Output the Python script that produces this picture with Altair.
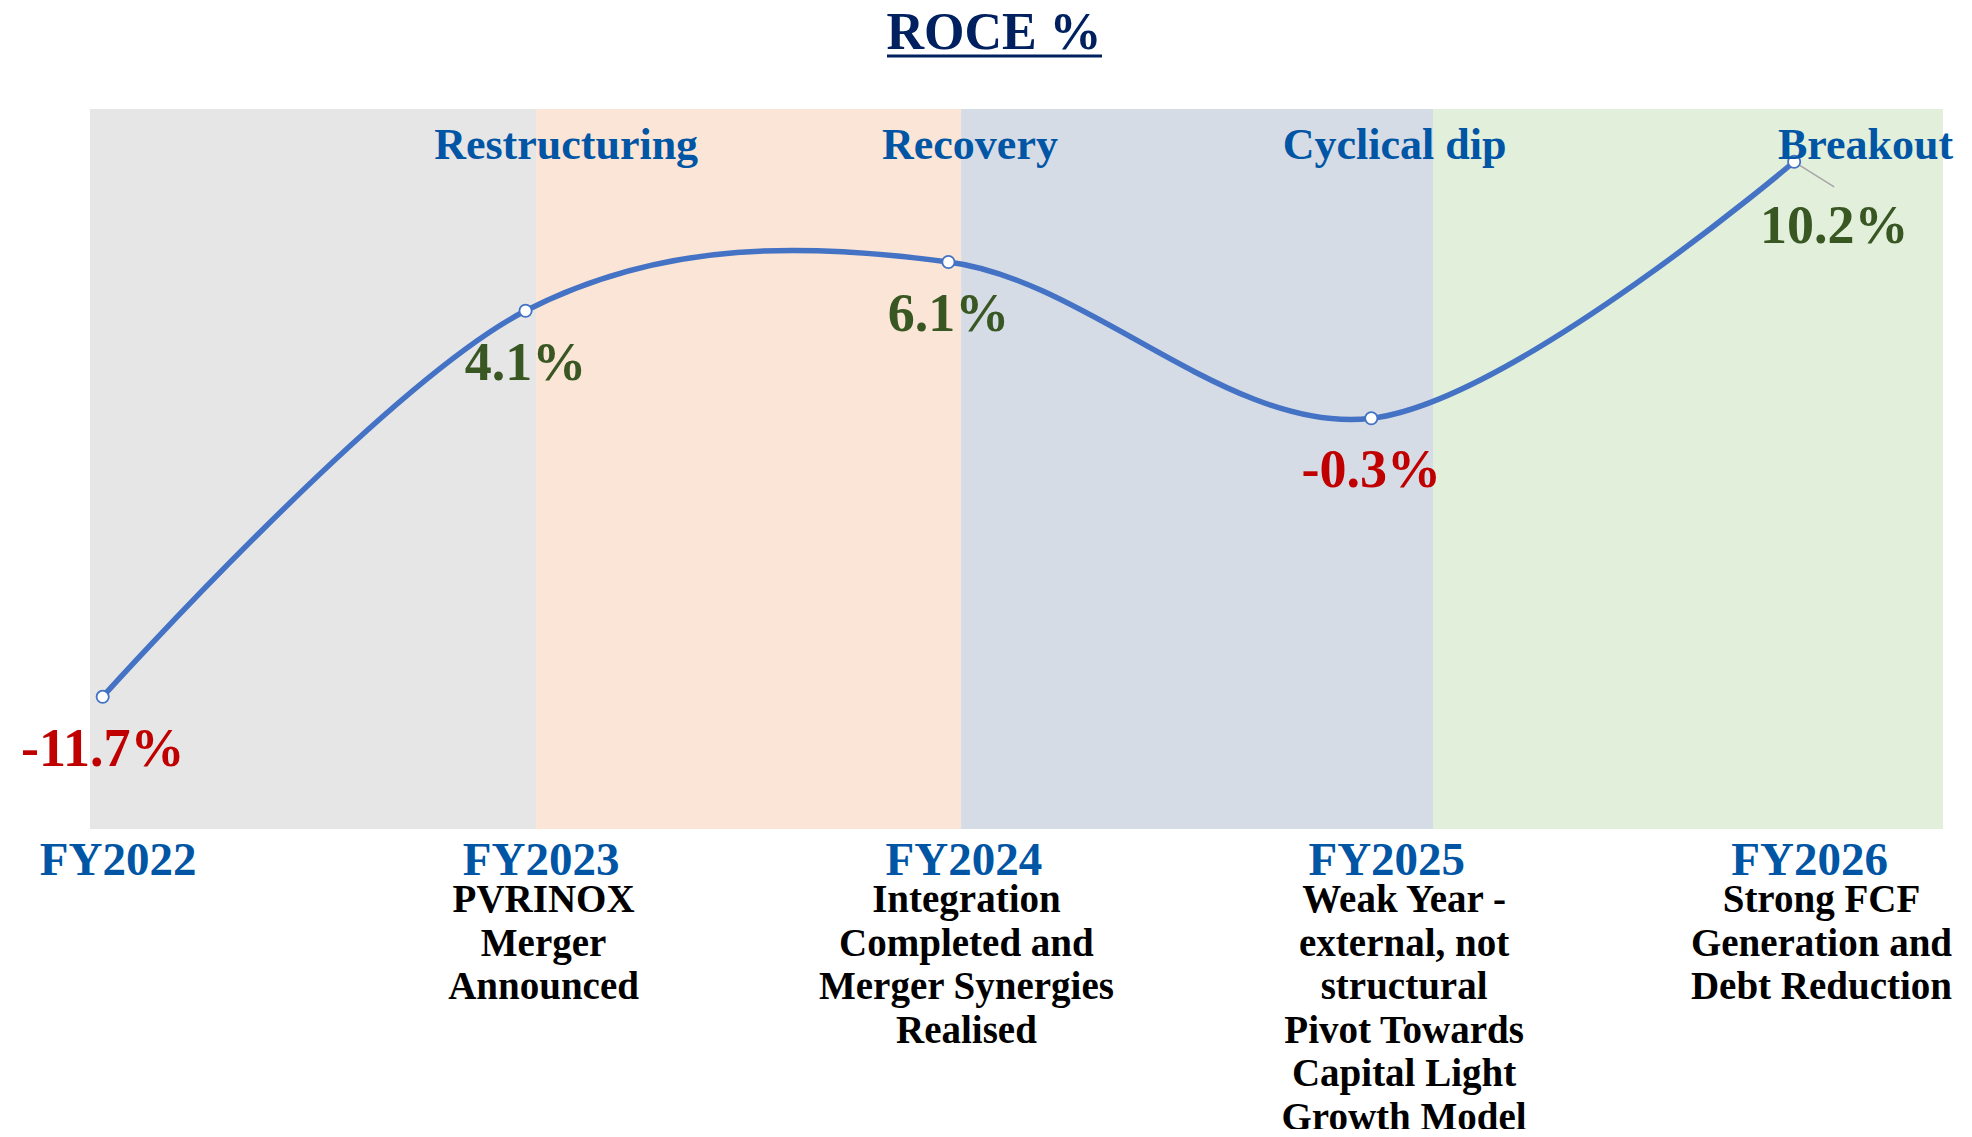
import altair as alt
import pandas as pd

# ---------------- data ----------------
years = ["FY2022", "FY2023", "FY2024", "FY2025", "FY2026"]
roce = [-11.7, 4.1, 6.1, -0.3, 10.2]
notes = [
    [""],
    ["PVRINOX", "Merger", "Announced"],
    ["Integration", "Completed and", "Merger Synergies", "Realised"],
    ["Weak Year -", "external, not", "structural", "Pivot Towards", "Capital Light", "Growth Model"],
    ["Strong FCF", "Generation and", "Debt Reduction"],
]
phases = ["Restructuring", "Recovery", "Cyclical dip", "Breakout"]
# background bands, in category-index units along the x axis
band_start = [-0.03, 1.025, 2.03, 3.146]
band_end = [1.025, 2.03, 3.146, 4.352]

# ---------------- layout / style ----------------
band_colors = ["#E6E6E6", "#FBE5D6", "#D6DCE5", "#E2EFDA"]
phase_x = [1.096, 2.051, 3.055, 4.169]
note_shift = [0.0, 0.0, 0.0, 0.035, 0.022]
W, H = 1853, 720
X_DOMAIN = [-0.03, 4.352]
Y_DOMAIN = [-17.11, 12.36]
FONT = "Liberation Serif"
BLUE = "#0055A5"
LINE = "#4472C4"
GREEN = "#385723"
RED = "#C00000"
NAVY = "#002060"

pts = pd.DataFrame({"idx": list(range(len(years))), "year": years, "roce": roce})
pts["label"] = [f"{v:.1f}%" for v in roce]
bands = pd.DataFrame({"phase_band": [f"b{i}" for i in range(len(band_start))],
                      "start": band_start, "end": band_end})
phase_df = pd.DataFrame({"phase": phases, "px": phase_x})
notes_data = alt.Data(values=[{"idx": i, "nx": i + note_shift[i], "note": n} for i, n in enumerate(notes)])

label_expr = "[" + ",".join(f"'{y}'" for y in years) + "][datum.value]"
xscale = alt.Scale(domain=X_DOMAIN, nice=False, zero=False)
yscale = alt.Scale(domain=Y_DOMAIN, nice=False, zero=False)
xaxis = alt.Axis(values=list(range(len(years))), labelExpr=label_expr, title="",
                 domain=False, ticks=False, grid=False, labelFont=FONT,
                 labelFontSize=47, labelFontWeight="bold", labelColor=BLUE,
                 labelPadding=45, labelBaseline="alphabetic", labelOffset=15,
                 labelFlush=False, labelOverlap=False, labelBound=False)


def X(field):
    return alt.X(field, type="quantitative", scale=xscale, axis=xaxis)


def Y(field):
    return alt.Y(field, type="quantitative", scale=yscale, axis=None)


band_layer = alt.Chart(bands).mark_rect().encode(
    x=X("start"), x2="end", y=alt.value(0), y2=alt.value(H),
    color=alt.Color("phase_band:N", scale=alt.Scale(domain=list(bands["phase_band"]), range=band_colors),
                    legend=None),
)

line_layer = alt.Chart(pts).mark_line(interpolate="cardinal", tension=0, color=LINE, strokeWidth=5.5).encode(
    x=X("idx"), y=Y("roce")
)

leader = alt.Chart(pts).transform_filter("datum.idx == 4").transform_calculate(
    x2="datum.idx + 40/422.8", y2="datum.roce - 25/24.43"
).mark_rule(color="#A6A6A6", strokeWidth=1.5).encode(
    x=X("idx"), y=Y("roce"), x2="x2:Q", y2="y2:Q"
)

points = alt.Chart(pts).mark_circle(color="white", stroke=LINE, strokeWidth=1.8, size=150, opacity=1).encode(
    x=X("idx"), y=Y("roce")
)

val_color = alt.condition("datum.roce < 0", alt.value(RED), alt.value(GREEN))
vals = alt.Chart(pts).transform_filter("datum.idx < 4").mark_text(
    font=FONT, fontSize=54, fontWeight="bold", baseline="alphabetic", align="center", dy=69
).encode(x=X("idx"), y=Y("roce"), text="label:N", color=val_color)

val_last = alt.Chart(pts).transform_filter("datum.idx == 4").mark_text(
    font=FONT, fontSize=54, fontWeight="bold", baseline="alphabetic", align="center", dx=40, dy=81
).encode(x=X("idx"), y=Y("roce"), text="label:N", color=val_color)

phase_layer = alt.Chart(phase_df).mark_text(
    font=FONT, fontSize=44, fontWeight="bold", color=BLUE, baseline="alphabetic", align="center"
).encode(x=X("px"), y=alt.value(50), text="phase:N")

notes_layer = alt.Chart(notes_data).mark_text(
    font=FONT, fontSize=39, fontWeight="bold", color="black", baseline="alphabetic",
    align="center", dx=18, lineHeight=43.5
).encode(x=X("nx:Q"), y=alt.value(803), text="note:N")

title_df = pd.DataFrame({"t": ["ROCE %"]})
title_layer = alt.Chart(title_df).mark_text(
    font=FONT, fontSize=52, fontWeight="bold", color=NAVY, baseline="alphabetic", align="center"
).encode(x=alt.value(904), y=alt.value(-60), text="t:N")
underline = alt.Chart(title_df).mark_rule(color=NAVY, strokeWidth=3).encode(
    x=alt.value(797), x2=alt.value(1012), y=alt.value(-53)
)

chart = alt.layer(
    band_layer, line_layer, leader, points, vals, val_last, phase_layer, notes_layer, title_layer, underline
).properties(
    width=W, height=H,
    padding={"left": 82, "top": 101, "right": 12, "bottom": 300},
    autosize=alt.AutoSizeParams(type="none"),
).configure_view(strokeWidth=0)

chart.save("out.html", embed_options={"renderer": "svg", "actions": False})
